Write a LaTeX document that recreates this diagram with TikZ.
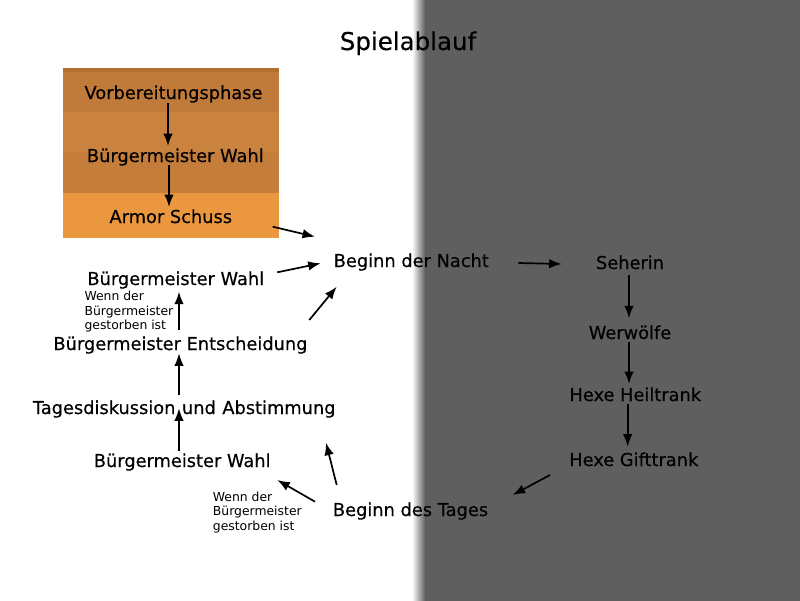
\documentclass[tikz,border=0pt]{standalone}
\usepackage{fontspec}
\setmainfont{DejaVu Sans}
\newfontfamily\heavyfont[FakeBold=0.35]{DejaVu Sans}
\usetikzlibrary{arrows.meta}
\definecolor{bgGray}{HTML}{5F5F5F}
\definecolor{orTop}{HTML}{B26F30}
\definecolor{orA}{HTML}{C07A39}
\definecolor{orB}{HTML}{C9833F}
\definecolor{orC}{HTML}{C47D3B}
\definecolor{orD}{HTML}{EA9740}
\begin{document}
\begin{tikzpicture}[x=1pt,y=-1pt,
  every node/.style={inner sep=0pt},
  lbl/.style={font=\heavyfont\fontsize{17.8}{21}\selectfont, anchor=base},
  ttl/.style={font=\heavyfont\fontsize{24.5}{29}\selectfont, anchor=base},
  note/.style={font=\fontsize{12.4}{14.4}\selectfont, align=left, anchor=north west},
  arr/.style={-{Latex[length=12.5pt,width=9.5pt]}, line width=1.7pt}]
\useasboundingbox (0,0) rectangle (800,600);
\fill[white] (0,0) rectangle (800,600);
\shade[left color=white,right color=bgGray] (412,-1) rectangle (425,601);
\fill[bgGray] (424.5,-1) rectangle (801,601);
% orange box
\fill[orTop] (63,68) rectangle (279,72);
\fill[orA] (63,72) rectangle (279,112);
\fill[orB] (63,112) rectangle (279,152);
\fill[orC] (63,152) rectangle (279,193);
\fill[orD] (63,193) rectangle (279,238);
% title
\node[ttl] (title) at (408,50) {Spielablauf};
% nodes
\node[lbl] (vor) at (173.5,99) {Vorbereitungsphase};
\node[lbl] (bwa) at (175.3,162) {Bürgermeister Wahl};
\node[lbl] (armor) at (170.8,223) {Armor Schuss};
\node[lbl] (nacht) at (411.3,267) {Beginn der Nacht};
\node[lbl] (seherin) at (630,269) {Seherin};
\node[lbl] (werw) at (630,339) {Werwölfe};
\node[lbl] (heil) at (635.3,401) {Hexe Heiltrank};
\node[lbl] (gift) at (633.8,466) {Hexe Gifttrank};
\node[lbl] (tages) at (410.5,516) {Beginn des Tages};
\node[lbl] (bwlow) at (182.2,467) {Bürgermeister Wahl};
\node[lbl] (disk) at (184.2,414) {Tagesdiskussion\hspace{6.5pt}und\hspace{6.5pt}Abstimmung};
\node[lbl] (bent) at (180.5,350) {Bürgermeister Entscheidung};
\node[lbl] (bwup) at (175.8,285) {Bürgermeister Wahl};
\node[note] (noteup) at (84.3,291.3) {Wenn der\\Bürgermeister\\gestorben ist};
\node[note] (notelow) at (212.7,491.6) {Wenn der\\Bürgermeister\\gestorben ist};
% connectors
\draw[arr] (168,103) coordinate (vorOut) -- (168,146) coordinate (bwaIn);
\draw[arr] (169,165) coordinate (bwaOut) -- (169,207) coordinate (armorIn);
\draw[arr] (272.7,226.7) coordinate (armorOut) -- (315,236.7) coordinate (nachtInA);
\draw[arr] (277.3,272.3) coordinate (bwupOut) -- (320.7,263.3) coordinate (nachtInB);
\draw[arr] (309.3,320) coordinate (bentOutR) -- (336.7,286.7) coordinate (nachtInC);
\draw[arr] (518.3,263) coordinate (nachtOut) -- (561.7,264) coordinate (seherinIn);
\draw[arr] (629,275) coordinate (seherinOut) -- (629,318.3) coordinate (werwIn);
\draw[arr] (629,341.7) coordinate (werwOut) -- (629,384) coordinate (heilIn);
\draw[arr] (627.7,404) coordinate (heilOut) -- (627.7,446.7) coordinate (giftIn);
\draw[arr] (550,475) coordinate (giftOut) -- (512.7,495) coordinate (tagesIn);
\draw[arr] (315,501.7) coordinate (tagesOutA) -- (277.3,480) coordinate (bwlowIn);
\draw[arr] (336.7,485) coordinate (tagesOutB) -- (326,442.7) coordinate (diskInR);
\draw[arr] (179,450.7) coordinate (bwlowOut) -- (179,408.3) coordinate (diskIn);
\draw[arr] (179,395) coordinate (diskOut) -- (179,353.3) coordinate (bentIn);
\draw[arr] (179,330) coordinate (bentOut) -- (179,291.7) coordinate (bwupIn);
\end{tikzpicture}
\end{document}
